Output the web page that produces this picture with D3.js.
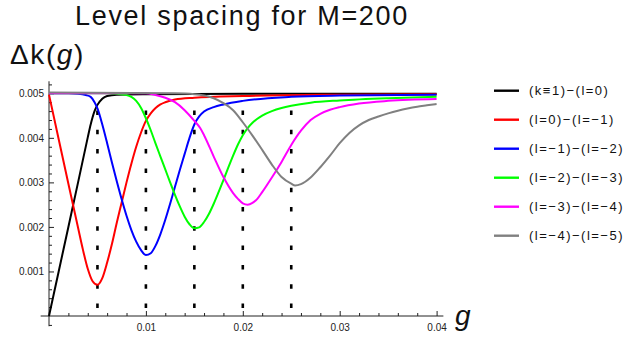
<!DOCTYPE html>
<html><head><meta charset="utf-8">
<script src="https://cdn.jsdelivr.net/npm/d3@7"></script>
<style>
body{margin:0;background:#fff;}
svg text{font-family:"Liberation Sans",Arial,Helvetica,sans-serif;}
</style></head>
<body>
<svg id="c" width="625" height="343"></svg>
<script>
// ---- data ----
const seriesNames = ["(k≡1)−(l=0)", "(l=0)−(l=−1)", "(l=−1)−(l=−2)", "(l=−2)−(l=−3)", "(l=−3)−(l=−4)", "(l=−4)−(l=−5)"];
const seriesColors = ["#000000", "#ff0000", "#0000ff", "#00ff00", "#ff00ff", "#808080"];
const black = [[0,0],[0.001,0.001],[0.002,0.002],[0.003,0.003],[0.004,0.00401],[0.0043,0.0043],[0.0047,0.0046],[0.005,0.00474],[0.0055,0.00488],[0.006,0.00494],[0.007,0.00497],[0.01,0.00498],[0.02,0.00499],[0.04,0.00499]];
const red = [[0,0.00497],[0.001,0.00397],[0.002,0.00297],[0.003,0.00198],[0.0035,0.00149],[0.004,0.00106],[0.0045,0.00078],[0.005,0.0007],[0.0055,0.00085],[0.006,0.0012],[0.0065,0.00162],[0.007,0.0021],[0.0075,0.00255],[0.008,0.003],[0.0085,0.00342],[0.009,0.0038],[0.0095,0.00412],[0.01,0.00438],[0.0105,0.00455],[0.011,0.00467],[0.0115,0.00475],[0.012,0.0048],[0.013,0.00486],[0.015,0.0049],[0.02,0.00494],[0.03,0.00497],[0.04,0.00498]];
const blue = [[0,0.005],[0.002,0.005],[0.003,0.00499],[0.0038,0.00496],[0.0043,0.00492],[0.0047,0.0048],[0.005,0.00466],[0.0055,0.0043],[0.006,0.00388],[0.0065,0.00344],[0.007,0.00302],[0.0075,0.00262],[0.008,0.00225],[0.0085,0.00193],[0.009,0.00167],[0.0095,0.00148],[0.01,0.00137],[0.0105,0.00141],[0.011,0.00158],[0.0115,0.00184],[0.012,0.00216],[0.0125,0.00252],[0.013,0.0029],[0.0135,0.00328],[0.014,0.00364],[0.0145,0.004],[0.015,0.0043],[0.0155,0.00448],[0.016,0.00459],[0.017,0.00469],[0.018,0.00475],[0.02,0.00483],[0.025,0.00492],[0.03,0.00495],[0.04,0.00497]];
const green = [[0,0.005],[0.006,0.005],[0.008,0.00496],[0.0085,0.00492],[0.009,0.00483],[0.0095,0.00467],[0.01,0.00444],[0.0105,0.00417],[0.011,0.00387],[0.0115,0.00358],[0.012,0.00329],[0.0125,0.003],[0.013,0.00272],[0.0135,0.00246],[0.014,0.00223],[0.0145,0.00206],[0.015,0.00197],[0.0155,0.00199],[0.016,0.00211],[0.0165,0.00229],[0.017,0.00252],[0.0175,0.00278],[0.018,0.00305],[0.0185,0.00333],[0.019,0.0036],[0.0195,0.00385],[0.02,0.00406],[0.0205,0.00422],[0.021,0.00434],[0.022,0.0045],[0.023,0.0046],[0.024,0.00467],[0.025,0.00472],[0.027,0.00479],[0.03,0.00484],[0.035,0.00489],[0.04,0.00492]];
const magenta = [[0,0.005],[0.01,0.005],[0.011,0.00496],[0.012,0.0049],[0.013,0.0048],[0.014,0.00462],[0.015,0.00438],[0.0156,0.00422],[0.016,0.00406],[0.017,0.00358],[0.018,0.00312],[0.019,0.00276],[0.0195,0.00263],[0.02,0.00253],[0.0205,0.0025],[0.021,0.00254],[0.0215,0.00263],[0.022,0.00278],[0.023,0.00311],[0.024,0.00346],[0.025,0.00384],[0.026,0.00416],[0.027,0.0044],[0.028,0.00454],[0.029,0.00463],[0.03,0.00469],[0.032,0.00477],[0.035,0.00483],[0.04,0.00487]];
const gray = [[0,0.00502],[0.013,0.005],[0.015,0.00498],[0.016,0.00495],[0.017,0.00489],[0.018,0.00478],[0.019,0.00462],[0.02,0.00435],[0.021,0.00405],[0.022,0.00373],[0.023,0.0034],[0.024,0.00312],[0.025,0.00297],[0.0254,0.00293],[0.026,0.00296],[0.027,0.00311],[0.028,0.00334],[0.029,0.0036],[0.03,0.00388],[0.031,0.00411],[0.032,0.00428],[0.033,0.0044],[0.034,0.00448],[0.035,0.00455],[0.036,0.00461],[0.037,0.00466],[0.038,0.0047],[0.039,0.00473],[0.04,0.00476]];
const series = [black, red, blue, green, magenta, gray];
const markerG = [0.005, 0.01, 0.015, 0.02, 0.025];
const markerTop = 0.00483;
const xTicks = [0.01, 0.02, 0.03, 0.04];
const xTickLabels = ["0.01", "0.02", "0.03", "0.04"];
const yTicks = [0.001, 0.002, 0.003, 0.004, 0.005];
const yTickLabels = ["0.001", "0.002", "0.003", "0.004", "0.005"];
const xMinor = d3.range(1, 21).map(i => +(i * 0.002).toFixed(4)).filter(v => !xTicks.includes(v));
const yMinor = d3.range(-1, 27).map(i => +(i * 0.0002).toFixed(4)).filter(v => !yTicks.includes(v) && v !== 0);

// ---- drawing ----
const svg = d3.select("#c");
const x = d3.scaleLinear().domain([0, 0.04]).range([49, 436.6]);
const y = d3.scaleLinear().domain([0, 0.005]).range([316, 93.3]);
const axisColor = "#222";

// dotted markers
svg.append("g").selectAll("line").data(markerG).join("line")
  .attr("x1", d => x(d)).attr("x2", d => x(d))
  .attr("y1", y(0)).attr("y2", y(markerTop))
  .attr("stroke", "#000").attr("stroke-width", 2.6)
  .attr("stroke-dasharray", "4.5,14.8").attr("stroke-dashoffset", -8);

// axes lines
svg.append("line").attr("x1", x(-0.00086)).attr("x2", x(0.0407)).attr("y1", y(0)).attr("y2", y(0))
  .attr("stroke", axisColor).attr("stroke-width", 1);
svg.append("line").attr("x1", x(0)).attr("x2", x(0)).attr("y1", y(-0.00023)).attr("y2", y(0.00527))
  .attr("stroke", axisColor).attr("stroke-width", 1);

const xAxis = d3.axisBottom(x).tickValues(xTicks).tickFormat((d, i) => xTickLabels[i]).tickSize(-5).tickPadding(8);
const gx = svg.append("g").attr("transform", `translate(0,${y(0)})`).call(xAxis);
const xMin = d3.axisBottom(x).tickValues(xMinor).tickFormat("").tickSize(-3);
const gx2 = svg.append("g").attr("transform", `translate(0,${y(0)})`).call(xMin);
const yAxis = d3.axisLeft(y).tickValues(yTicks).tickFormat((d, i) => yTickLabels[i]).tickSize(-5).tickPadding(5);
const gy = svg.append("g").attr("transform", `translate(${x(0)},0)`).call(yAxis);
const yMin = d3.axisLeft(y).tickValues(yMinor).tickFormat("").tickSize(-3);
const gy2 = svg.append("g").attr("transform", `translate(${x(0)},0)`).call(yMin);
[gx, gx2, gy, gy2].forEach(g => {
  g.select(".domain").remove();
  g.selectAll("line").attr("stroke", axisColor);
  g.selectAll("text").attr("font-size", 10).attr("fill", "#222")
    .attr("font-family", "'Liberation Sans', Arial, sans-serif");
});

// curves
const line = d3.line().x(d => x(d[0])).y(d => y(d[1])).curve(d3.curveMonotoneX);
svg.append("g").selectAll("path").data(series).join("path")
  .attr("d", line).attr("fill", "none")
  .attr("stroke", (d, i) => seriesColors[i]).attr("stroke-width", 2)
  .attr("stroke-linejoin", "round");

// titles
svg.append("text").attr("x", 242).attr("y", 25).attr("text-anchor", "middle")
  .attr("font-size", 27).attr("letter-spacing", 1.7).attr("fill", "#111").text("Level spacing for M=200");
const yl = svg.append("text").attr("x", 10).attr("y", 63.5).attr("font-size", 28).attr("letter-spacing", 1.6).attr("fill", "#111");
yl.append("tspan").text("Δk(");
yl.append("tspan").attr("font-style", "italic").text("g");
yl.append("tspan").text(")");
svg.append("text").attr("x", 455).attr("y", 325).attr("font-size", 28).attr("font-style", "italic").attr("fill", "#111").text("g");

// legend
const lg = svg.append("g").selectAll("g").data(seriesNames).join("g")
  .attr("transform", (d, i) => `translate(0,${90.7 + i * 29})`);
lg.append("line").attr("x1", 494).attr("x2", 519).attr("y1", 0).attr("y2", 0)
  .attr("stroke", (d, i) => seriesColors[i]).attr("stroke-width", 2.4);
lg.append("text").attr("x", 529).attr("y", 0).attr("dy", "0.35em")
  .attr("font-size", 13).attr("letter-spacing", 1.5).attr("fill", "#111").text(d => d);
</script>
</body></html>
